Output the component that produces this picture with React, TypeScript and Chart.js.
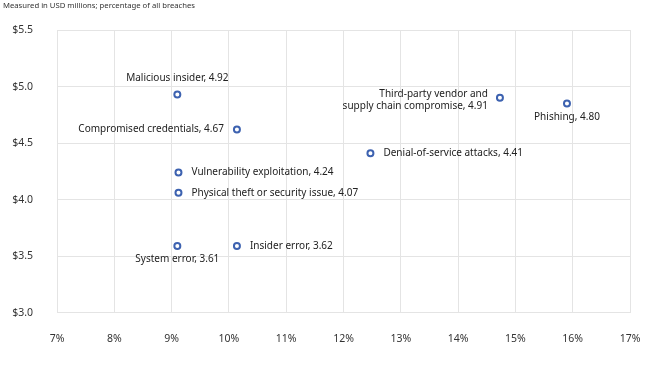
import React, { useEffect, useRef } from "react";
import { Chart, registerables } from "chart.js";

Chart.register(...registerables);

const categories = [
  "Malicious insider",
  "Compromised credentials",
  "Vulnerability exploitation",
  "Physical theft or security issue",
  "System error",
  "Insider error",
  "Denial-of-service attacks",
  "Third-party vendor and\nsupply chain compromise",
  "Phishing",
];
// share of all breaches (%)
const sharePct = [9.1, 10.14, 9.12, 9.12, 9.1, 10.14, 12.47, 14.73, 15.9];
// plotted cost (USD millions)
const costUsd = [4.93, 4.62, 4.24, 4.06, 3.59, 3.59, 4.41, 4.9, 4.85];
// printed cost labels
const costLabels = ["4.92", "4.67", "4.24", "4.07", "3.61", "3.62", "4.41", "4.91", "4.80"];
const labelPlacement = ["top", "left", "right", "right", "bottom", "right", "right", "left", "bottom"];

const subtitle = "Measured in USD millions; percentage of all breaches";
const FONT = "'Noto Sans', sans-serif";

const labelPlugin = {
  id: "pointLabels",
  afterDatasetsDraw(chart: any) {
    const ctx = chart.ctx;
    const meta = chart.getDatasetMeta(0);
    ctx.save();
    ctx.font = `10px ${FONT}`;
    ctx.fillStyle = "#222";
    meta.data.forEach((el: any, i: number) => {
      const lines = `${categories[i]}, ${costLabels[i]}`.split("\n");
      const pos = labelPlacement[i];
      const x = el.x;
      const y = el.y;
      ctx.textBaseline = "middle";
      const lh = 12;
      if (pos === "top") {
        ctx.textAlign = "center";
        ctx.fillText(lines[0], x, y - 16);
      } else if (pos === "bottom") {
        ctx.textAlign = "center";
        ctx.fillText(lines[0], x, y + 13.5);
      } else if (pos === "right") {
        ctx.textAlign = "left";
        ctx.fillText(lines[0], x + 13, y);
      } else {
        ctx.textAlign = "right";
        if (lines.length === 1) {
          ctx.fillText(lines[0], x - 13, y);
        } else {
          lines.forEach((l, k) => ctx.fillText(l, x - 12, y - 4 + k * lh));
        }
      }
    });
    ctx.restore();
  },
};

const subtitlePlugin = {
  id: "subtitleText",
  afterDraw(chart: any) {
    const ctx = chart.ctx;
    ctx.save();
    ctx.font = `7.7px ${FONT}`;
    ctx.fillStyle = "#333";
    ctx.textAlign = "left";
    ctx.textBaseline = "middle";
    ctx.fillText(subtitle, 3, 6);
    ctx.restore();
  },
};

export default function App() {
  const ref = useRef<HTMLCanvasElement | null>(null);
  useEffect(() => {
    if (!ref.current) return;
    const chart = new Chart(ref.current, {
      type: "scatter",
      data: {
        datasets: [
          {
            label: "Breaches",
            data: sharePct.map((x, i) => ({ x, y: costUsd[i] })),
            pointRadius: 3,
            pointHoverRadius: 3,
            pointBorderWidth: 2,
            pointBackgroundColor: "#ffffff",
            pointBorderColor: "#3d62b0",
          },
        ],
      },
      options: {
        animation: false,
        responsive: false,
        maintainAspectRatio: false,
        layout: { padding: { top: 30, right: 22, left: 0, bottom: 0 } },
        plugins: {
          legend: { display: false },
          tooltip: { enabled: false },
          title: { display: false },
        },
        scales: {
          x: {
            type: "linear",
            min: 7,
            max: 17,
            ticks: {
              stepSize: 1,
              padding: 20,
              color: "#333",
              font: { family: FONT, size: 10.5 },
              callback: (v: any) => `${v}%`,
            },
            grid: { color: "#e4e4e4", drawTicks: false },
            border: { color: "#e4e4e4" },
            afterFit: (s: any) => {
              s.height = 55.3;
              s.paddingLeft = 0;
              s.paddingRight = 0;
            },
          },
          y: {
            type: "linear",
            min: 3,
            max: 5.5,
            ticks: {
              stepSize: 0.5,
              padding: 24,
              color: "#333",
              font: { family: FONT, size: 10.5 },
              callback: (v: any) => `$${Number(v).toFixed(1)}`,
            },
            grid: { color: "#e4e4e4", drawTicks: false },
            border: { color: "#e4e4e4" },
            afterFit: (s: any) => {
              s.width = 57;
              s.paddingTop = 0;
              s.paddingBottom = 0;
            },
          },
        },
      },
      plugins: [labelPlugin, subtitlePlugin],
    });
    return () => chart.destroy();
  }, []);
  return (
    <div style={{ position: "fixed", left: 0, top: 0, width: 652, height: 368, background: "#fff" }}>
      <canvas ref={ref} width={652} height={368} style={{ width: 652, height: 368 }} />
    </div>
  );
}
